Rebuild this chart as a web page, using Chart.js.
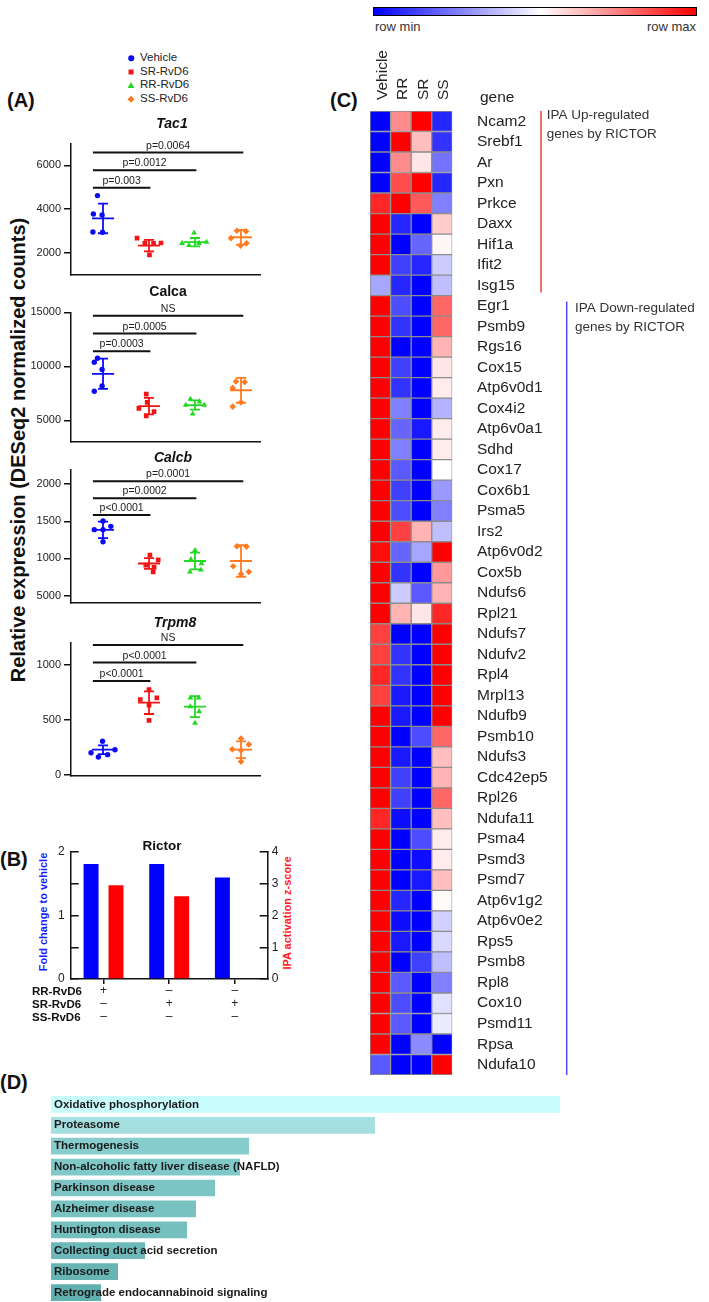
<!DOCTYPE html>
<html lang="en">
<head>
<meta charset="UTF-8">
<title>RvD6 isomers, Rictor and IPA gene sets</title>
<script src="https://cdn.jsdelivr.net/npm/chart.js"></script>
<style>
    html, body { margin: 0; padding: 0; }
    body {
        position: relative;
        width: 709px;
        height: 1302px;
        overflow: hidden;
        background: #fff;
        color: #222;
        font-family: "Liberation Sans", Arial, sans-serif;
    }
    canvas { position: absolute; }
    .txt { position: absolute; white-space: nowrap; line-height: 1; transform: translateY(-50%); }
    .vtxt { position: absolute; white-space: nowrap; line-height: 1; font-weight: bold; transform: translate(-50%, -50%) rotate(-90deg); }
    .panel { font-weight: bold; font-size: 20px; color: #111; }
    .mk { position: absolute; transform: translate(-50%, -50%); }
    .colorbar {
        position: absolute; left: 373px; top: 7px; width: 324px; height: 9px;
        box-sizing: border-box; border: 1px solid #000;
        background: linear-gradient(to right, #0000ff, #ffffff 52%, #ff0000);
    }
</style>
</head>
<body>
    <div class="txt panel" style="left:7px; top:100px;">(A)</div>
    <div class="txt panel" style="left:0px; top:859px;">(B)</div>
    <div class="txt panel" style="left:330px; top:100px;">(C)</div>
    <div class="txt panel" style="left:0px; top:1082px;">(D)</div>

    <!-- legend of panel A -->
    <div class="mk" style="left:131px; top:58px; width:5.5px; height:5.5px; border-radius:50%; background:#0b0bf5;"></div>
    <div class="txt" style="left:140px; top:58px; font-size:11.5px;">Vehicle</div>
    <div class="mk" style="left:131px; top:72px; width:5px; height:5px; background:#f01414;"></div>
    <div class="txt" style="left:140px; top:72px; font-size:11.5px;">SR-RvD6</div>
    <div class="mk" style="left:131px; top:85px; width:7px; height:6px; background:#22d822; clip-path:polygon(50% 0, 100% 100%, 0 100%);"></div>
    <div class="txt" style="left:140px; top:85px; font-size:11.5px;">RR-RvD6</div>
    <div class="mk" style="left:131px; top:99px; width:4.6px; height:4.6px; background:#ff7b22; transform:translate(-50%, -50%) rotate(45deg);"></div>
    <div class="txt" style="left:140px; top:99px; font-size:11.5px;">SS-RvD6</div>

    <div class="vtxt" style="left:17.5px; top:450px; font-size:20px; color:#111;">Relative expression (DESeq2 normalized counts)</div>

    <canvas id="tac1"></canvas>
    <canvas id="calca"></canvas>
    <canvas id="calcb"></canvas>
    <canvas id="trpm8"></canvas>

    <div class="vtxt" style="left:43px; top:912px; font-size:11px; color:#1a1aff;">Fold change to vehicle</div>
    <div class="vtxt" style="left:287px; top:913px; font-size:11px; color:#ff1a1a;">IPA activation z-score</div>
    <canvas id="rictor"></canvas>

    <div class="colorbar"></div>
    <div class="txt" style="left:375px; top:26px; font-size:13px; color:#333;">row min</div>
    <div class="txt" style="right:13px; top:26px; font-size:13px; color:#333;">row max</div>
    <canvas id="heat"></canvas>

    <canvas id="kegg"></canvas>

<script>
    Chart.defaults.font.family = '"Liberation Sans", Arial, sans-serif';
    Chart.defaults.color = '#222';
    Chart.defaults.plugins.legend.display = false;
    Chart.defaults.plugins.tooltip.enabled = false;

    // ---------- panel A ----------
    const groupNames = ['Vehicle', 'SR-RvD6', 'RR-RvD6', 'SS-RvD6'];
    const groupColors = ['#0b0bf5', '#f01414', '#22d822', '#ff7b22'];
    const groupShapes = ['circle', 'rect', 'triangle', 'rectRot'];
    const groupRadius = [2.7, 3.3, 3.4, 3.3];

    // comparison bars: Vehicle vs SR, RR, SS
    const sigStart = -0.22;
    const sigEnd = [1.03, 2.03, 3.05];

    const tac1Points = [[4620, 3780, 3740, 2960, 2950], [2680, 2450, 2440, 2460, 1920], [2920, 2450, 2350, 2450, 2500], [3020, 2990, 2680, 2450, 2340]];
    const tac1Spread = [[-0.12, -0.21, -0.02, -0.22, -0.01], [-0.26, -0.09, 0.10, 0.26, 0.01], [-0.02, -0.28, -0.13, 0.09, 0.25], [-0.09, 0.11, -0.22, 0.12, -0.01]];
    const tac1Mean = [3580, 2343, 2497, 2722];
    const tac1Sd = [677, 262, 190, 339];
    const tac1SigY = [4980, 5774, 6587];
    const tac1SigText = ['p=0.003', 'p=0.0012', 'p=0.0064'];
    const tac1Ticks = [2000, 4000, 6000];

    const calcaPoints = [[10750, 10380, 9710, 8190, 7700], [7430, 6670, 6120, 5820, 5420], [6970, 6730, 6420, 6420, 5600], [8610, 8560, 8010, 6670, 6280]];
    const calcaSpread = [[-0.12, -0.19, -0.02, -0.02, -0.19], [-0.06, -0.04, -0.22, 0.11, -0.06], [-0.1, 0.1, -0.2, 0.2, -0.05], [-0.11, 0.08, -0.18, 0, -0.18]];
    const calcaMean = [9315, 6330, 6420, 7790];
    const calcaSd = [1400, 763, 428, 1155];
    const calcaSigY = [11414, 13057, 14700];
    const calcaSigText = ['p=0.0003', 'p=0.0005', 'NS'];
    const calcaTicks = [5000, 10000, 15000];

    const calcbPoints = [[1505, 1388, 1388, 1433, 1225], [1044, 982, 910, 879, 820], [1110, 987, 933, 820, 847], [1165, 1160, 895, 820, 790]];
    const calcbSpread = [[0, -0.19, 0, 0.17, 0], [0.02, 0.2, -0.07, 0.11, 0.09], [0, -0.09, 0.14, -0.11, 0.13], [-0.09, 0.12, -0.17, 0.17, 0]];
    const calcbMean = [1385, 932, 966, 966];
    const calcbSd = [111, 72, 112, 212];
    const calcbSigY = [1585, 1812, 2040];
    const calcbSigText = ['p<0.0001', 'p=0.0002', 'p=0.0001'];
    const calcbTicks = [500, 1000, 1500, 2000];
    const calcbTickText = ['5000', '1000', '1500', '2000'];

    const trpm8Points = [[305, 229, 201, 163, 184], [774, 685, 700, 634, 495], [700, 700, 620, 576, 471], [331, 277, 232, 223, 121]];
    const trpm8Spread = [[-0.01, 0.26, -0.26, -0.1, 0.1], [0, -0.19, 0.17, 0, 0], [-0.1, 0.08, -0.1, 0.09, 0], [0, 0.17, -0.19, 0, 0]];
    const trpm8Mean = [229, 656, 620, 229];
    const trpm8Sd = [40, 103, 95, 76];
    const trpm8SigY = [854, 1021, 1179];
    const trpm8SigText = ['p<0.0001', 'p<0.0001', 'NS'];
    const trpm8Ticks = [0, 500, 1000];

    // ---------- panel B ----------
    const treatmentNames = ['RR-RvD6', 'SR-RvD6', 'SS-RvD6'];
    const rictorLabels = [['+', '–', '–'], ['–', '+', '–'], ['–', '+', '–']];
    const rictorFold = [1.81, 1.81, 1.60];
    const rictorZ = [2.95, 2.61, 0];

    // ---------- panel C ----------
    const heatColumns = ['Vehicle', 'RR', 'SR', 'SS'];
    const genes = ['Ncam2', 'Srebf1', 'Ar', 'Pxn', 'Prkce', 'Daxx', 'Hif1a', 'Ifit2', 'Isg15',
        'Egr1', 'Psmb9', 'Rgs16', 'Cox15', 'Atp6v0d1', 'Cox4i2', 'Atp6v0a1', 'Sdhd', 'Cox17', 'Cox6b1',
        'Psma5', 'Irs2', 'Atp6v0d2', 'Cox5b', 'Ndufs6', 'Rpl21', 'Ndufs7', 'Ndufv2', 'Rpl4', 'Mrpl13',
        'Ndufb9', 'Psmb10', 'Ndufs3', 'Cdc42ep5', 'Rpl26', 'Ndufa11', 'Psma4', 'Psmd3', 'Psmd7',
        'Atp6v1g2', 'Atp6v0e2', 'Rps5', 'Psmb8', 'Rpl8', 'Cox10', 'Psmd11', 'Rpsa', 'Ndufa10'];
    // row-scaled values, -1 = row min, +1 = row max
    const vehicleZ = [-1, -1, -1, -1, 0.85, 1, 1, 1, -0.35,
        1, 1, 1, 1, 1, 1, 1, 1, 1, 1,
        1, 1, 0.95, 1, 1, 1, 0.75, 0.75, 0.85, 0.75,
        1, 1, 1, 1, 1, 0.85, 1, 1, 1,
        1, 1, 1, 1, 1, 1, 1, 1, -0.65];
    const rrZ = [0.45, 1, 0.45, 0.7, 1, -0.85, -1, -0.75, -0.85,
        -0.7, -0.8, -1, -0.75, -0.8, -0.5, -0.6, -0.5, -0.65, -0.75,
        -0.7, 0.75, -0.6, -0.8, -0.2, 0.3, -1, -0.8, -0.8, -0.9,
        -0.9, -1, -0.9, -0.75, -0.75, -0.95, -1, -1, -1,
        -0.85, -0.95, -0.9, -1, -0.65, -0.7, -0.65, -1, -1];
    const srZ = [1, 0.25, 0.1, 1, 0.65, -1, -0.6, -0.85, -1,
        -1, -1, -1, -1, -1, -1, -0.9, -1, -1, -1,
        -1, 0.3, -0.35, -1, -0.65, 0.1, -1, -1, -1, -1,
        -1, -0.7, -1, -1, -1, -1, -0.7, -0.95, -0.9,
        -1, -1, -1, -0.75, -1, -1, -1, -0.45, -1];
    const ssZ = [-0.85, -0.8, -0.55, -0.85, -0.5, 0.2, 0.03, -0.2, -0.25,
        0.6, 0.6, 0.3, 0.1, 0.08, -0.3, 0.08, 0.08, 0, -0.4,
        -0.5, -0.25, 1, 0.4, 0.3, 0.85, 1, 1, 1, 1,
        1, 0.6, 0.25, 0.3, 0.6, 0.25, 0.08, 0.08, 0.25,
        0.02, -0.18, -0.15, -0.25, -0.5, -0.12, -0.08, -1, 1];
    const geneSets = [
        { first: 0, last: 8, lines: ['IPA Up-regulated', 'genes by RICTOR'] },
        { first: 9, last: 46, lines: ['IPA Down-regulated', 'genes by RICTOR'] }
    ];

    // ---------- panel D ----------
    const pathways = ['Oxidative phosphorylation', 'Proteasome', 'Thermogenesis',
        'Non-alcoholic fatty liver disease (NAFLD)', 'Parkinson disease', 'Alzheimer disease',
        'Huntington disease', 'Collecting duct acid secretion', 'Ribosome',
        'Retrograde endocannabinoid signaling'];
    const pathwayScores = [10.18, 6.48, 3.96, 3.78, 3.28, 2.90, 2.72, 1.88, 1.34, 1.00];
    const pathwayColors = ['#c9fdfd', '#a6dfdf', '#87cdcd', '#81c9c9', '#7dc5c5', '#79c2c2', '#75bfbf', '#6db9b9', '#67b4b4', '#61b0b0'];

    // ---------------------------------------------------------------

    function placeCanvas(id, left, top, width, height) {
        const el = document.getElementById(id);
        el.width = width;
        el.height = height;
        el.style.left = left + 'px';
        el.style.top = top + 'px';
        return el;
    }

    // fixed axis size, and no extra layout padding for overhanging labels
    function fixWidth(w) {
        return s => { s.width = w; s.paddingTop = 0; s.paddingBottom = 0; };
    }

    const sigLabels = {
        id: 'sigLabels',
        afterDatasetsDraw(chart, args, opts) {
            const { ctx, scales: { x, y } } = chart;
            ctx.save();
            ctx.font = '10.5px "Liberation Sans", Arial, sans-serif';
            ctx.fillStyle = '#222';
            ctx.textAlign = 'center';
            ctx.textBaseline = 'bottom';
            opts.y.forEach((v, k) => {
                const px = (x.getPixelForValue(sigStart) + x.getPixelForValue(sigEnd[k])) / 2;
                ctx.fillText(opts.text[k], px, y.getPixelForValue(v) - 1.5);
            });
            ctx.restore();
        }
    };

    function dotPlot(id, d, box) {
        const w = box.titleX * 2;
        const top = box.titleY - 10.4;
        const el = placeCanvas(id, 0, top, w, box.bottom - top + 3);

        const datasets = [];
        d.mean.forEach((m, g) => {
            const s = d.sd[g];
            datasets.push({
                data: [
                    { x: g - 0.24, y: m }, { x: g + 0.24, y: m }, { x: g, y: null },
                    { x: g, y: m - s }, { x: g, y: m + s }, { x: g, y: null },
                    { x: g - 0.11, y: m + s }, { x: g + 0.11, y: m + s }, { x: g, y: null },
                    { x: g - 0.11, y: m - s }, { x: g + 0.11, y: m - s }
                ],
                showLine: true, spanGaps: false, borderColor: groupColors[g], borderWidth: 1.8, pointRadius: 0
            });
        });
        d.points.forEach((vals, g) => {
            datasets.push({
                label: groupNames[g],
                data: vals.map((v, k) => ({ x: g + d.spread[g][k], y: v })),
                pointStyle: groupShapes[g],
                pointRadius: groupRadius[g],
                backgroundColor: groupColors[g],
                borderColor: groupColors[g],
                borderWidth: 0
            });
        });
        const sig = [];
        d.sigY.forEach((v, k) => {
            sig.push({ x: sigStart, y: v }, { x: sigEnd[k], y: v }, { x: 0, y: null });
        });
        datasets.push({ data: sig, showLine: true, spanGaps: false, borderColor: '#111', borderWidth: 2, pointRadius: 0 });

        return new Chart(el, {
            type: 'scatter',
            data: { datasets: datasets },
            options: {
                responsive: false,
                animation: false,
                layout: { padding: { top: 0, bottom: 3, left: 0, right: 0 } },
                plugins: {
                    title: {
                        display: true,
                        text: d.title,
                        color: '#111',
                        font: { size: 14, weight: 'bold', style: d.italic ? 'italic' : 'normal' },
                        padding: { top: 2, bottom: box.top - top - 18.8 }
                    },
                    sigLabels: { y: d.sigY, text: d.sigText }
                },
                scales: {
                    x: {
                        type: 'linear', min: -0.696, max: 3.413,
                        grid: { display: false },
                        ticks: { display: false },
                        border: { display: true, color: '#111', width: 1.5 },
                        afterFit: s => { s.height = 0; s.paddingLeft = 0; s.paddingRight = 0; }
                    },
                    y: {
                        min: d.min, max: d.max,
                        afterBuildTicks: s => { s.ticks = d.ticks.map(v => ({ value: v })); },
                        ticks: {
                            font: { size: 11 }, color: '#222', padding: 3,
                            callback: v => d.tickText ? d.tickText[d.ticks.indexOf(v)] : String(v)
                        },
                        grid: { drawOnChartArea: false, tickLength: 7, color: '#111', lineWidth: 1.5 },
                        border: { color: '#111', width: 1.5 },
                        afterFit: fixWidth(71)
                    },
                    pad: {
                        type: 'linear', position: 'right',
                        grid: { display: false, drawTicks: false },
                        ticks: { display: false },
                        border: { display: false },
                        afterFit: fixWidth(w - 260)
                    }
                }
            },
            plugins: [sigLabels]
        });
    }

    dotPlot('tac1', { title: 'Tac1', italic: true, points: tac1Points, spread: tac1Spread, mean: tac1Mean, sd: tac1Sd,
        sigY: tac1SigY, sigText: tac1SigText, ticks: tac1Ticks, min: 1000, max: 7000 },
        { titleX: 172, titleY: 124, top: 143, bottom: 276 });
    dotPlot('calca', { title: 'Calca', italic: false, points: calcaPoints, spread: calcaSpread, mean: calcaMean, sd: calcaSd,
        sigY: calcaSigY, sigText: calcaSigText, ticks: calcaTicks, min: 3000, max: 15000 },
        { titleX: 168, titleY: 292.7, top: 312.7, bottom: 444 });
    dotPlot('calcb', { title: 'Calcb', italic: true, points: calcbPoints, spread: calcbSpread, mean: calcbMean, sd: calcbSd,
        sigY: calcbSigY, sigText: calcbSigText, ticks: calcbTicks, tickText: calcbTickText, min: 400, max: 2200 },
        { titleX: 173, titleY: 458.3, top: 469.3, bottom: 604 });
    dotPlot('trpm8', { title: 'Trpm8', italic: true, points: trpm8Points, spread: trpm8Spread, mean: trpm8Mean, sd: trpm8Sd,
        sigY: trpm8SigY, sigText: trpm8SigText, ticks: trpm8Ticks, min: -10, max: 1200 },
        { titleX: 175, titleY: 623.3, top: 642.7, bottom: 777.7 });

    // ---------- panel B: Rictor ----------
    treatmentNames.forEach((name, r) => {
        const div = document.createElement('div');
        div.className = 'txt';
        div.style.cssText = 'left:32px; top:' + (991.6 + r * 13.2) + 'px; font-weight:bold; font-size:11.5px; color:#111;';
        div.textContent = name;
        document.body.appendChild(div);
    });

    const axisGrid = { drawOnChartArea: false, tickLength: -8, color: '#111', lineWidth: 1.5 };
    new Chart(placeCanvas('rictor', 0, 841.3, 324, 183.7), {
        type: 'bar',
        data: {
            labels: rictorLabels,
            datasets: [
                { data: rictorFold, yAxisID: 'y', backgroundColor: '#0000ff' },
                { data: rictorZ, yAxisID: 'y2', backgroundColor: '#ff0000' }
            ]
        },
        options: {
            responsive: false,
            animation: false,
            layout: { padding: 0 },
            datasets: { bar: { categoryPercentage: 0.76, barPercentage: 0.6 } },
            plugins: {
                title: {
                    display: true, text: 'Rictor', color: '#111',
                    font: { size: 13.5, weight: 'bold', lineHeight: 0.8 },
                    padding: { top: 0, bottom: 0.2 }
                }
            },
            scales: {
                x: {
                    grid: { offset: false, drawOnChartArea: false, tickLength: 5, color: '#111', lineWidth: 1.5 },
                    border: { color: '#111', width: 1.5 },
                    ticks: { padding: 0, maxRotation: 0, color: '#222', font: { size: 12, lineHeight: 1.1 } },
                    afterFit: s => { s.height = 45; s.paddingLeft = 0; s.paddingRight = 0; }
                },
                y: {
                    position: 'left', min: 0, max: 2,
                    ticks: { stepSize: 0.5, padding: 14, font: { size: 12 }, callback: v => Number.isInteger(v) ? String(v) : '' },
                    grid: axisGrid,
                    border: { color: '#111', width: 1.5 },
                    afterFit: fixWidth(70.7)
                },
                y2: {
                    position: 'right', min: 0, max: 4,
                    ticks: { stepSize: 1, padding: 12, font: { size: 12 } },
                    grid: axisGrid,
                    border: { color: '#111', width: 1.5 },
                    afterFit: fixWidth(56.3)
                }
            }
        }
    });

    // ---------- panel C: heatmap ----------
    function heatColor(v) {
        if (v >= 0) {
            const c = Math.round(255 * (1 - v));
            return 'rgb(255,' + c + ',' + c + ')';
        }
        const c = Math.round(255 * (1 + v));
        return 'rgb(' + c + ',' + c + ',255)';
    }

    const setStyles = [
        { color: '#e84545', dx: 88.7, textDx: 94.4, topInset: 0, bottomInset: 3, textTop: 4 },
        { color: '#4d4dff', dx: 114.4, textDx: 122.7, topInset: 6, bottomInset: 0, textTop: 12.4 }
    ];

    const heatAnnot = {
        id: 'heatAnnot',
        afterDraw(chart) {
            const { ctx, chartArea, scales: { x, y } } = chart;
            const half = (y.getPixelForValue(1) - y.getPixelForValue(0)) / 2;
            ctx.save();
            ctx.fillStyle = '#222';
            ctx.font = '15.5px "Liberation Sans", Arial, sans-serif';
            ctx.textAlign = 'left';
            ctx.textBaseline = 'middle';
            heatColumns.forEach((name, c) => {
                ctx.save();
                ctx.translate(x.getPixelForValue(c + 0.5) + 2, chartArea.top - 11);
                ctx.rotate(-Math.PI / 2);
                ctx.fillText(name, 0, 0);
                ctx.restore();
            });
            ctx.fillText('gene', chartArea.right + 27.7, chartArea.top - 13.7);

            ctx.font = '13.5px "Liberation Sans", Arial, sans-serif';
            ctx.fillStyle = '#333';
            geneSets.forEach((set, k) => {
                const st = setStyles[k];
                const y0 = y.getPixelForValue(set.first) - half;
                const y1 = y.getPixelForValue(set.last) + half;
                ctx.strokeStyle = st.color;
                ctx.lineWidth = 1.5;
                ctx.beginPath();
                ctx.moveTo(chartArea.right + st.dx, y0 + st.topInset);
                ctx.lineTo(chartArea.right + st.dx, y1 - st.bottomInset);
                ctx.stroke();
                set.lines.forEach((line, i) => {
                    ctx.fillText(line, chartArea.right + st.textDx, y0 + st.textTop + i * 19.7);
                });
            });
            ctx.restore();
        }
    };

    const heatData = [vehicleZ, rrZ, srZ, ssZ];
    new Chart(placeCanvas('heat', 360, 30, 349, 1055), {
        type: 'bar',
        data: {
            labels: genes,
            datasets: heatData.map((col, c) => ({
                data: genes.map(() => [c, c + 1]),
                backgroundColor: col.map(heatColor),
                borderColor: '#8c8c8c',
                borderWidth: 1,
                borderSkipped: false,
                grouped: false,
                barPercentage: 1,
                categoryPercentage: 1
            }))
        },
        options: {
            responsive: false,
            animation: false,
            indexAxis: 'y',
            layout: { padding: { left: 10, top: 81, bottom: 10, right: 0 } },
            scales: {
                x: { display: false, min: 0, max: 4 },
                y: {
                    position: 'right',
                    grid: { display: false, drawTicks: false },
                    border: { display: false },
                    ticks: { autoSkip: false, padding: 24.7, color: '#222', font: { size: 15.5 } },
                    afterFit: fixWidth(256.7)
                }
            }
        },
        plugins: [heatAnnot]
    });

    // ---------- panel D: pathways ----------
    const barText = {
        id: 'barText',
        afterDatasetsDraw(chart) {
            const { ctx, chartArea } = chart;
            const meta = chart.getDatasetMeta(0);
            ctx.save();
            ctx.font = 'bold 11.5px "Liberation Sans", Arial, sans-serif';
            ctx.fillStyle = '#1a1a1a';
            ctx.textAlign = 'left';
            ctx.textBaseline = 'middle';
            meta.data.forEach((bar, i) => {
                ctx.fillText(chart.data.labels[i], chartArea.left + 3, bar.y);
            });
            ctx.restore();
        }
    };

    new Chart(placeCanvas('kegg', 0, 1090, 709, 213), {
        type: 'bar',
        data: {
            labels: pathways,
            datasets: [{ data: pathwayScores, backgroundColor: pathwayColors, barPercentage: 0.8, categoryPercentage: 1 }]
        },
        options: {
            responsive: false,
            animation: false,
            indexAxis: 'y',
            layout: { padding: { left: 51, right: 148, top: 3.9, bottom: 0 } },
            scales: {
                x: { display: false, min: 0, max: 10.2 },
                y: { display: false }
            }
        },
        plugins: [barText]
    });
</script>
</body>
</html>
